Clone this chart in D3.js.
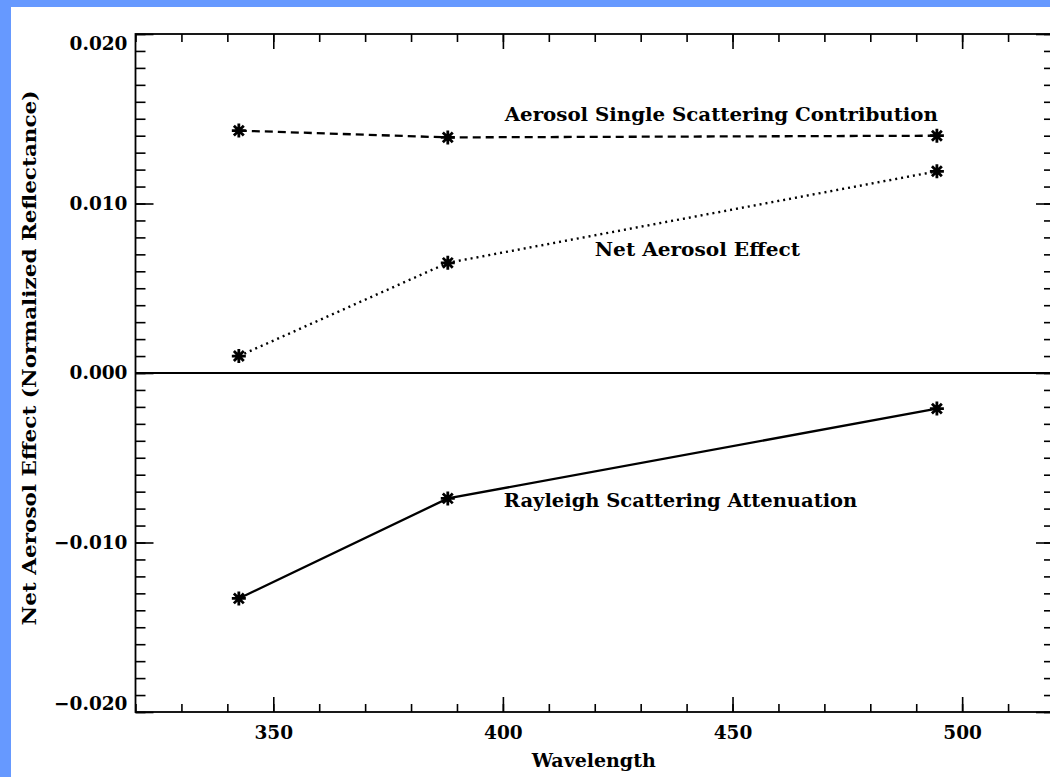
<!DOCTYPE html>
<html>
<head>
<meta charset="utf-8">
<script src="https://cdn.jsdelivr.net/npm/d3@7/dist/d3.min.js"></script>
<style>
  html, body { margin: 0; padding: 0; background: #6699ff; }
  svg { display: block; }
  text { font-family: "DejaVu Serif", "Liberation Serif", serif; font-weight: bold; fill: #000; }
</style>
</head>
<body>
<svg id="chart" width="1050" height="777"></svg>
<script>
// Wavelengths (nm) at which the three contributions were computed
const wavelengths = [342.5, 388, 494.5];

// Normalized reflectance contributions
const singleScattering = [0.0143, 0.0139, 0.0140];
const netEffect        = [0.0010, 0.0065, 0.0119];
const rayleighAtten    = [-0.0133, -0.0074, -0.0021];

// Axis ticks
const xMajorTicks = [350, 400, 450, 500];
const yMajorTicks = [-0.020, -0.010, 0.000, 0.010, 0.020];

// In-plot curve labels: [text, wavelength, value]
const curveLabels = [
  ["Aerosol Single Scattering Contribution", 400.4, 0.01487],
  ["Net Aerosol Effect", 420.0, 0.0069],
  ["Rayleigh Scattering Attenuation", 400.2, -0.0079]
];

const svg = d3.select("#chart");
const W = 1050, H = 777;

// page background and white panel
svg.append("rect").attr("width", W).attr("height", H).attr("fill", "#6699ff");
svg.append("rect").attr("x", 11).attr("y", 7).attr("width", W - 11).attr("height", H - 7).attr("fill", "#fff");

const plot = { left: 135.5, right: 1054, top: 34, bottom: 712 };

const x = d3.scaleLinear().domain([320, 520]).range([plot.left, plot.right]);
const y = d3.scaleLinear().domain([-0.020, 0.020]).range([plot.bottom, plot.top]);

const xMinor = d3.range(320, 521, 10);
const yMinor = d3.range(-20, 21, 1).map(d => d / 1000);

function styleAxis(g) {
  g.select(".domain").remove();
  g.selectAll(".tick line").attr("stroke", "#000").attr("stroke-width", 1.6);
  g.selectAll("text").style("font-size", "18.5px").attr("fill", "#000");
}

// bottom axis: minor + major (labelled)
svg.append("g").attr("transform", `translate(0,${plot.bottom})`)
  .call(d3.axisBottom(x).tickValues(xMinor).tickSize(-8).tickFormat(""))
  .call(styleAxis);
svg.append("g").attr("transform", `translate(0,${plot.bottom})`)
  .call(d3.axisBottom(x).tickValues(xMajorTicks).tickSize(-15).tickPadding(14).tickFormat(d3.format("d")))
  .call(styleAxis);

// top axis: ticks only
svg.append("g").attr("transform", `translate(0,${plot.top})`)
  .call(d3.axisTop(x).tickValues(xMinor).tickSize(-8).tickFormat(""))
  .call(styleAxis);
svg.append("g").attr("transform", `translate(0,${plot.top})`)
  .call(d3.axisTop(x).tickValues(xMajorTicks).tickSize(-15).tickFormat(""))
  .call(styleAxis);

// left axis: minor + major (labelled)
svg.append("g").attr("transform", `translate(${plot.left},0)`)
  .call(d3.axisLeft(y).tickValues(yMinor).tickSize(-10).tickFormat(""))
  .call(styleAxis);
const yAxisG = svg.append("g").attr("transform", `translate(${plot.left},0)`)
  .call(d3.axisLeft(y).tickValues(yMajorTicks).tickSize(-18).tickPadding(8)
    .tickFormat(d => d3.format(".3f")(d).replace("-", "\u2212")))
  .call(styleAxis);
// keep the end labels inside the frame height
yAxisG.selectAll(".tick text")
  .attr("dy", d => d === 0.020 ? "0.85em" : d === -0.020 ? "-0.15em" : "0.32em");

// right axis: ticks only
svg.append("g").attr("transform", `translate(${plot.right},0)`)
  .call(d3.axisRight(y).tickValues(yMinor).tickSize(-10).tickFormat(""))
  .call(styleAxis);
svg.append("g").attr("transform", `translate(${plot.right},0)`)
  .call(d3.axisRight(y).tickValues(yMajorTicks).tickSize(-18).tickFormat(""))
  .call(styleAxis);

// frame
svg.append("rect")
  .attr("x", plot.left).attr("y", plot.top)
  .attr("width", plot.right - plot.left).attr("height", plot.bottom - plot.top)
  .attr("fill", "none").attr("stroke", "#000").attr("stroke-width", 1.8);

// zero reference line
svg.append("line")
  .attr("x1", plot.left).attr("x2", plot.right)
  .attr("y1", y(0)).attr("y2", y(0))
  .attr("stroke", "#000").attr("stroke-width", 2);

// curves
const line = d3.line().x(d => x(d[0])).y(d => y(d[1]));
const series = [
  { values: singleScattering, dash: "8,5", width: 2.3 },
  { values: netEffect, dash: "2,4", width: 2.4 },
  { values: rayleighAtten, dash: null, width: 2.3 }
];

const asterisk = r => {
  const a = r * Math.SQRT1_2;
  return `M${-r},0L${r},0M0,${-r}L0,${r}M${-a},${-a}L${a},${a}M${-a},${a}L${a},${-a}`;
};

series.forEach(s => {
  const pts = wavelengths.map((w, i) => [w, s.values[i]]);
  svg.append("path")
    .datum(pts)
    .attr("d", line)
    .attr("fill", "none")
    .attr("stroke", "#000")
    .attr("stroke-width", s.width)
    .attr("stroke-dasharray", s.dash);
  svg.append("g").selectAll("path")
    .data(pts)
    .join("path")
    .attr("transform", d => `translate(${x(d[0])},${y(d[1])})`)
    .attr("d", asterisk(7))
    .attr("stroke", "#000")
    .attr("stroke-width", 2.8)
    .attr("fill", "none");
});

// curve labels
svg.append("g").selectAll("text")
  .data(curveLabels)
  .join("text")
  .attr("x", d => x(d[1]))
  .attr("y", d => y(d[2]))
  .style("font-size", "19px")
  .attr("textLength", d => d[0].length * 11.4)
  .attr("lengthAdjust", "spacingAndGlyphs")
  .text(d => d[0]);

// axis titles
svg.append("text")
  .attr("x", (x(400) + x(450)) / 2 - 24)
  .attr("y", 767)
  .attr("text-anchor", "middle")
  .style("font-size", "19px")
  .attr("textLength", 124)
  .attr("lengthAdjust", "spacingAndGlyphs")
  .text("Wavelength");

svg.append("text")
  .attr("transform", "translate(36,358) rotate(-90)")
  .attr("text-anchor", "middle")
  .style("font-size", "19px")
  .attr("textLength", 535)
  .attr("lengthAdjust", "spacingAndGlyphs")
  .text("Net Aerosol Effect (Normalized Reflectance)");
</script>
</body>
</html>
